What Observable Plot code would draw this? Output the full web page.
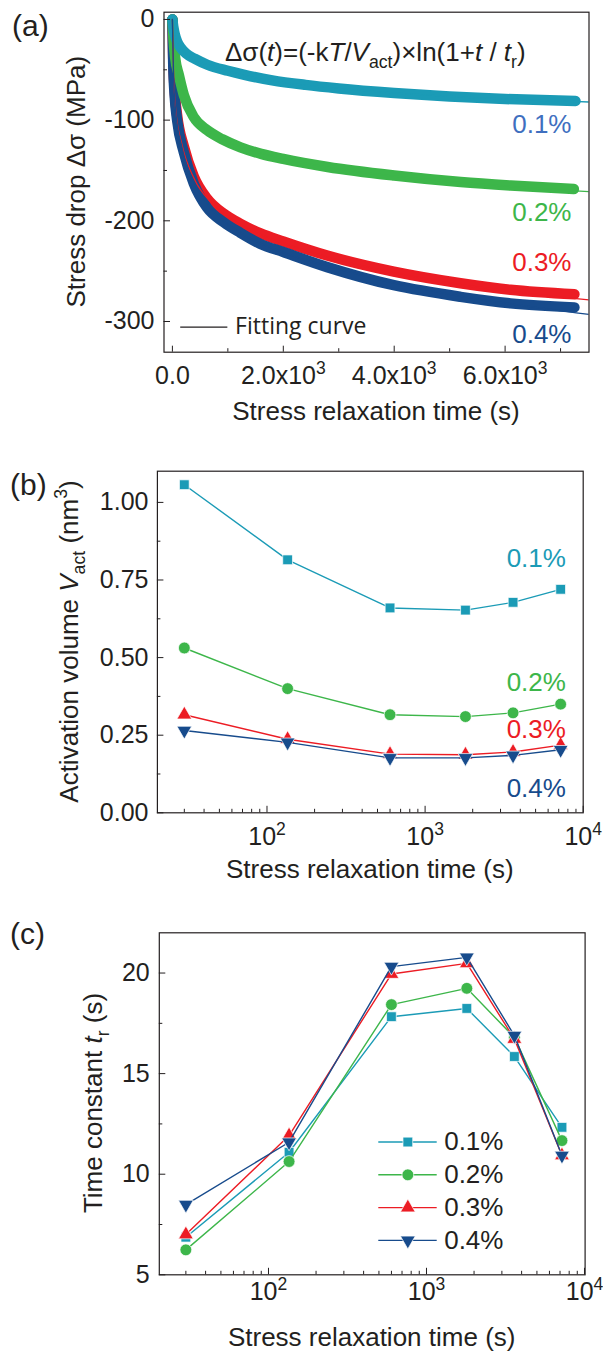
<!DOCTYPE html>
<html><head><meta charset="utf-8">
<script src="https://cdn.jsdelivr.net/npm/d3@7"></script>
<script src="https://cdn.jsdelivr.net/npm/@observablehq/plot@0.6"></script>
<style>
body{margin:0;background:#fff;}
#wrap{position:relative;width:603px;height:1354px;overflow:hidden;background:#fff;}
#wrap svg{position:absolute;left:0;}
</style></head><body><div id="wrap"></div>
<script>
// ---------------- data ----------------
const strainLevels = ["0.1%", "0.2%", "0.3%", "0.4%"];
const seriesColors = ["#1b9bb6", "#3db64a", "#ec1c24", "#174b8c"];
const labelColorsA = ["#3f6fbf", "#3db64a", "#ec1c24", "#174b8c"];

// (a) stress drop vs relaxation time (measured bands)
const timeA01 = [0, 15, 40, 85, 150, 250, 400, 630, 1000, 1300, 1800, 2400, 3000, 4000, 5000, 6000, 7270];
const dropA01 = [0, -7, -14, -22, -28, -34, -39, -45, -51, -55, -60.5, -65, -68.5, -73, -76.5, -79, -81];
const timeA02 = [0, 20, 50, 116, 206, 386, 627, 900, 1228, 1600, 2000, 2800, 4000, 5200, 6100, 7240];
const dropA02 = [0, -20, -38, -55, -75, -97, -110, -119, -127, -133.5, -138.5, -146.5, -155, -161.5, -165, -168.5];
const timeA03 = [0, 15, 40, 85, 206, 386, 627, 928, 1228, 1589, 2000, 2792, 3993, 5196, 6097, 7250];
const dropA03 = [0, -40, -70, -95, -126, -156, -178, -193, -203, -212.5, -220.5, -234.5, -250.5, -262, -268.5, -273];
const timeA04 = [0, 15, 40, 85, 206, 386, 627, 928, 1228, 1589, 2000, 2792, 3993, 5196, 6097, 7250];
const dropA04 = [0, -45, -75, -100, -132, -163, -187, -201.5, -212, -223, -231, -246, -264, -275.5, -282, -286];
// (a) fitting curves
const fitTime01 = [0, 30, 100, 300, 700, 1500, 3000, 5000, 7510];
const fitDrop01 = [0, -12, -24, -37, -46, -58, -68.5, -76.5, -82];
const fitTime02 = [0, 20, 60, 150, 400, 800, 1500, 3000, 5000, 7510];
const fitDrop02 = [0, -25, -45, -65, -97, -116, -131, -148.5, -161, -171];
const fitTime03 = [0, 20, 60, 176, 400, 700, 1228, 2000, 3000, 4000, 5200, 6100, 7510];
const fitDrop03 = [0, -50, -90, -125, -159, -182, -204, -222, -239, -251.5, -263.5, -270, -278.5];
const fitTime04 = [0, 20, 60, 176, 400, 700, 1228, 2000, 3000, 4000, 5200, 6100, 7510];
const fitDrop04 = [0, -55, -92, -128, -163, -188, -212, -231.5, -248, -262, -275, -282.5, -293];

// (b), (c) relaxation times
const relaxTimes = [30, 135, 600, 1800, 3600, 7200];
const vact01 = [1.057, 0.815, 0.660, 0.653, 0.678, 0.720];
const vact02 = [0.531, 0.400, 0.316, 0.310, 0.322, 0.350];
const vact03 = [0.316, 0.237, 0.189, 0.187, 0.196, 0.218];
const vact04 = [0.265, 0.227, 0.177, 0.177, 0.185, 0.203];
const tr01 = [6.87, 11.09, 17.83, 18.24, 15.85, 12.33];
const tr02 = [6.24, 10.63, 18.43, 19.24, 16.80, 11.67];
const tr03 = [7.00, 11.92, 19.95, 20.48, 16.72, 10.93];
const tr04 = [8.49, 11.59, 20.32, 20.78, 16.89, 10.93];

// tick values
const ticksAy = [0, -100, -200, -300], minorAy = [-50, -150, -250];
const ticksAx = [0, 2000, 4000, 6000], minorAx = [1000, 3000, 5000, 7000];
const ticksBy = [0, 0.25, 0.5, 0.75, 1.0], minorBy = [0.125, 0.375, 0.625, 0.875];
const ticksCy = [5, 10, 15, 20], minorCy = [7.5, 12.5, 17.5];
const ticksLog = [100, 1000, 10000];
const minorLog = [30, 40, 50, 60, 70, 80, 90, 200, 300, 400, 500, 600, 700, 800, 900, 2000, 3000, 4000, 5000, 6000, 7000, 8000, 9000];

// ---------------- helpers ----------------
const FONT = '"Liberation Sans", Arial, Helvetica, sans-serif';
const INK = "#231f20";
const wrap = document.getElementById("wrap");
const tidy = (s, xs, ys) => xs.map((x, i) => ({s, x, y: ys[i]}));
const triangleDown = {
  draw(ctx, size) {
    const y = Math.sqrt(size / (Math.sqrt(3) * 3));
    ctx.moveTo(0, 2 * y); ctx.lineTo(-Math.sqrt(3) * y, -y); ctx.lineTo(Math.sqrt(3) * y, -y); ctx.closePath();
  }
};
const symbols = ["square", "circle", "triangle", triangleDown];
const symbolR = [5.5, 5.9, 5.5, 5.5];

function place(svg, top) {
  svg.style.top = top + "px";
  wrap.appendChild(svg);
  return d3.select(svg);
}
function superscriptify(sel) {
  sel.selectAll("text").each(function () {
    const t = this.textContent;
    if (t.includes("^")) {
      const [base, exp] = t.split("^");
      const s = d3.select(this); s.text(null);
      s.append("tspan").text(base);
      s.append("tspan").attr("dy", -10).attr("font-size", 17.5).text(exp);
    }
  });
}
function rich(sel, parts, fs) {
  let shift = 0;
  for (const p of parts) {
    const ts = sel.append("tspan").text(p.t);
    const target = p.sub ? fs * 0.25 : p.sup ? -fs * 0.42 : 0;
    if (target - shift) ts.attr("dy", target - shift);
    shift = target;
    if (p.sub || p.sup) ts.attr("font-size", fs * 0.68);
    if (p.it) ts.attr("font-style", "italic");
  }
}
function addText(sel, x, y, parts, fs, opts = {}) {
  const t = sel.append("text").attr("x", x).attr("y", y)
    .attr("font-family", FONT).attr("font-size", fs).attr("fill", opts.fill || INK)
    .attr("text-anchor", opts.anchor || "start");
  if (opts.rotate) t.attr("transform", `rotate(-90 ${x} ${y})`);
  rich(t, parts, fs);
  return t;
}
const baseStyle = {fontFamily: FONT, fontSize: "25px", color: INK, background: "none", overflow: "visible"};

// ---------------- panel (a) ----------------
const bandRows = [
  ...tidy("0.3%", timeA03, dropA03), ...tidy("0.4%", timeA04, dropA04),
  ...tidy("0.2%", timeA02, dropA02), ...tidy("0.1%", timeA01, dropA01)
];
const fitRows = [
  ...tidy("0.1%", fitTime01, fitDrop01), ...tidy("0.2%", fitTime02, fitDrop02),
  ...tidy("0.3%", fitTime03, fitDrop03), ...tidy("0.4%", fitTime04, fitDrop04)
];
const plotA = Plot.plot({
  width: 603, height: 440,
  marginTop: 11.7, marginBottom: 88.3, marginLeft: 163.5, marginRight: 14.5,
  style: baseStyle,
  x: {type: "linear", domain: [-151.5, 7513], axis: null},
  y: {domain: [-330.5, 7.2], axis: null},
  color: {domain: strainLevels, range: seriesColors},
  marks: [
    Plot.line(bandRows, {x: "x", y: "y", z: "s", stroke: "s", strokeWidth: 10.5, curve: "monotone-x", clip: true}),
    Plot.line(fitRows, {x: "x", y: "y", z: "s", stroke: "s", strokeWidth: 1.3, curve: "monotone-x", clip: true}),
    Plot.frame({stroke: INK, strokeWidth: 1.2}),
    Plot.axisY({ticks: ticksAy, tickSize: -6.5, tickPadding: 16, tickFormat: d => String(d), label: null}),
    Plot.axisY({ticks: minorAy, tickSize: -3.5, tickFormat: () => "", label: null}),
    Plot.axisX({ticks: ticksAx, tickSize: -6, tickPadding: 20.3, tickFormat: d => d === 0 ? "0.0" : (d / 1000).toFixed(1) + "x10^3", label: null}),
    Plot.axisX({ticks: minorAx, tickSize: -3.5, tickFormat: () => "", label: null}),
    Plot.text(strainLevels, {x: 7197, y: [-105, -191.5, -241.5, -313], text: d => d, fill: labelColorsA, textAnchor: "end", lineAnchor: "middle", fontSize: 26}),
    Plot.ruleY([-305.5], {x1: 150, x2: 1000, stroke: INK, strokeWidth: 1.3}),
    Plot.text(["Fitting curve"], {x: 1130, y: -305.5, text: d => d, textAnchor: "start", lineAnchor: "middle", fontSize: 23, fontFamily: '"Open Sans", sans-serif', fill: INK})
  ]
});
const sa = place(plotA, 0);
superscriptify(sa);
addText(sa, 12, 36, [{t: "(a)"}], 30);
addText(sa, 76 + 9, 181.7, [{t: "Stress drop Δσ (MPa)"}], 26, {anchor: "middle", rotate: true});
addText(sa, 376, 419.5, [{t: "Stress relaxation time (s)"}], 26, {anchor: "middle"});
addText(sa, 225, 61, [
  {t: "Δσ("}, {t: "t", it: true}, {t: ")=(-k"}, {t: "T", it: true}, {t: "/"}, {t: "V", it: true},
  {t: "act", sub: true}, {t: ")×ln(1+"}, {t: "t", it: true}, {t: " / "}, {t: "t", it: true}, {t: "r", sub: true}, {t: ")"}
], 26);

// ---------------- panels (b), (c) ----------------
function logPanel(values, opt) {
  const marks = [Plot.frame({stroke: INK, strokeWidth: 1.2})];
  values.forEach((vals, i) => {
    const rows = tidy(strainLevels[i], relaxTimes, vals);
    marks.push(Plot.line(rows, {x: "x", y: "y", stroke: seriesColors[i], strokeWidth: 1.4}));
    marks.push(Plot.dot(rows, {x: "x", y: "y", symbol: symbols[i], r: symbolR[i], fill: seriesColors[i], stroke: "white", strokeWidth: 0.7}));
  });
  marks.push(
    Plot.axisY({ticks: opt.yTicks, tickSize: -6.5, tickPadding: opt.yPad, tickFormat: opt.yFormat, label: null}),
    Plot.axisY({ticks: opt.yMinor, tickSize: -3.5, tickFormat: () => "", label: null}),
    Plot.axisX({ticks: ticksLog, tickSize: -6.5, tickPadding: opt.xPad, tickFormat: d => "10^" + Math.round(Math.log10(d)), label: null}),
    Plot.axisX({ticks: minorLog, tickSize: -3.5, tickFormat: () => "", label: null}),
    ...opt.extra
  );
  return Plot.plot({
    width: 603, height: opt.height,
    marginTop: opt.mt, marginBottom: opt.mb, marginLeft: opt.ml, marginRight: opt.mr,
    style: baseStyle,
    x: {type: "log", domain: opt.xDomain, axis: null},
    y: {domain: opt.yDomain, axis: null},
    marks
  });
}

const plotB = logPanel([vact01, vact02, vact03, vact04], {
  height: 445, mt: 30.7, mb: 72.7, ml: 156.9, mr: 20.3,
  xDomain: [20.27, 10000], yDomain: [0, 1.1005],
  yTicks: ticksBy, yMinor: minorBy, yFormat: d => d.toFixed(2), yPad: 15.4, xPad: 21.3,
  extra: [
    Plot.text(strainLevels, {x: 7774, y: [0.819, 0.42, 0.268, 0.078], text: d => d, fill: seriesColors, textAnchor: "end", lineAnchor: "middle", fontSize: 26})
  ]
});
const sb = place(plotB, 440);
superscriptify(sb);
addText(sb, 10, 54.6, [{t: "(b)"}], 30);
addText(sb, 69 + 9, 201.5, [{t: "Activation volume "}, {t: "V", it: true}, {t: "act", sub: true}, {t: " (nm"}, {t: "3", sup: true}, {t: ")"}], 26, {anchor: "middle", rotate: true});
addText(sb, 369.8, 438, [{t: "Stress relaxation time (s)"}], 26, {anchor: "middle"});

const legendY = (d, i) => 11.6 - 1.63 * i;
const plotC = logPanel([tr01, tr02, tr03, tr04], {
  height: 474, mt: 52.3, mb: 79.7, ml: 158.8, mr: 18.4,
  xDomain: [20.37, 10088], yDomain: [5, 22],
  yTicks: ticksCy, yMinor: minorCy, yFormat: d => String(d), yPad: 16.1, xPad: 14.4,
  extra: [
    Plot.ruleY(strainLevels, {y: legendY, x1: 499, x2: 1169, stroke: seriesColors, strokeWidth: 1.4}),
    ...strainLevels.map((s, i) => Plot.dot([s], {x: 762, y: () => 11.6 - 1.63 * i, symbol: symbols[i], r: symbolR[i], fill: seriesColors[i], stroke: "white", strokeWidth: 0.7})),
    Plot.text(strainLevels, {x: 1294, y: legendY, text: d => d, textAnchor: "start", lineAnchor: "middle", fontSize: 26, fill: INK})
  ]
});
const sc = place(plotC, 880);
superscriptify(sc);
addText(sc, 10, 64, [{t: "(c)"}], 30);
addText(sc, 93 + 9, 223, [{t: "Time constant "}, {t: "t", it: true}, {t: "r", sub: true}, {t: " (s)"}], 26, {anchor: "middle", rotate: true});
addText(sc, 371.7, 466, [{t: "Stress relaxation time (s)"}], 26, {anchor: "middle"});
</script>
</body></html>
